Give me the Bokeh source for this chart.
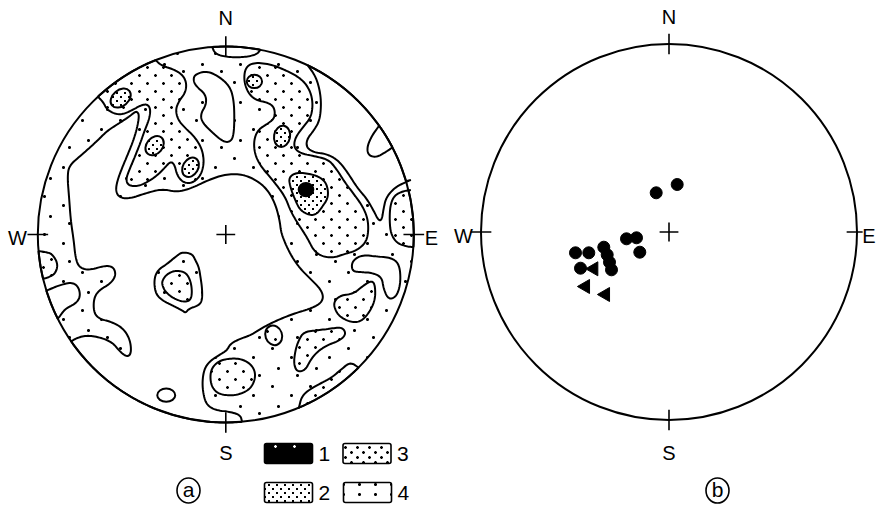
import math
import zlib
import struct
import base64
import numpy as np
from bokeh.plotting import figure
from bokeh.layouts import row
from bokeh.models import Range1d, ColumnDataSource, ImageURLTexture
from bokeh.core.properties import value
from bokeh.embed import file_html
from bokeh.resources import INLINE

FONT = "Liberation Sans"

# ------------------------------------------------------------------
# Net (a): contour outlines.
# Drawing units, y grows downward; net centre / radius below.
# A trailing None means: close the outline along the primitive circle.
# ------------------------------------------------------------------
DIGI_CX, DIGI_CY, DIGI_R = 616.0, 642.0, 565.0

# areas below the lowest contour (white)
white_center = [(149, 965), (164, 955), (194, 945), (234, 950), (274, 965), (299, 995), (319, 1010),
                (332, 1000), (329, 960), (309, 925), (274, 905), (234, 895), (219, 875), (219, 835),
                (234, 810), (269, 790), (286, 765), (279, 740), (254, 735), (204, 750), (174, 740),
                (164, 710), (159, 660), (150, 600), (145, 530), (140, 470), (145, 435), (180, 405),
                (225, 365), (260, 330), (295, 308), (325, 288), (340, 276), (348, 272), (356, 282),
                (350, 320), (338, 360), (322, 400), (305, 440), (290, 480), (285, 510), (295, 530),
                (325, 535), (375, 518), (425, 505), (470, 515), (515, 502), (560, 480), (610, 462),
                (660, 460), (702, 475), (740, 505), (765, 550), (778, 600), (782, 635), (795, 670),
                (815, 710), (840, 745), (870, 775), (900, 805), (910, 830), (900, 850), (870, 865),
                (820, 880), (770, 900), (730, 920), (690, 945), (660, 955), (630, 970), (620, 990),
                (595, 1005), (565, 1025), (550, 1050), (545, 1090), (550, 1130), (560, 1155),
                (585, 1170), (630, 1175), (660, 1185), (665, 1205), None]
white_top = [(525, 160), (560, 150), (600, 170), (630, 200), (640, 240), (642, 290), (640, 340),
             (632, 362), (610, 365), (575, 335), (545, 305), (540, 280), (558, 250), (555, 220),
             (525, 195), (518, 175)]
white_north = [(575, 78), (582, 95), (600, 105), (640, 110), (680, 108), (710, 100), (720, 87), None]
white_east = [(862, 133), (885, 165), (898, 205), (903, 250), (898, 300), (880, 330), (860, 355),
              (858, 380), (880, 395), (920, 400), (955, 420), (985, 460), (1010, 500), (1040, 535),
              (1060, 570), (1075, 600), (1085, 598), (1090, 565), (1098, 530), (1125, 500),
              (1158, 484), (1172, 478), None]
white_southwest = [(79, 810), (114, 795), (154, 785), (174, 800), (179, 830), (164, 850), (134, 865),
                   (119, 885), (111, 895), None]
white_finger = [(995, 722), (1025, 703), (1070, 708), (1115, 712), (1138, 732), (1142, 785),
                (1130, 828), (1105, 838), (1090, 805), (1085, 770), (1055, 757), (1020, 755), (995, 752)]

# small closed contours drawn as outlines only
bump_ne = [(1077, 315), (1055, 345), (1040, 380), (1045, 405), (1070, 410), (1100, 392), (1117, 380), None]
small_ovals_x, small_ovals_y, small_ovals_w, small_ovals_h = [437], [1125], [54], [40]

# level 4 island in the white centre
island_outer = [(400, 780), (410, 750), (440, 730), (470, 705), (485, 695), (515, 700), (525, 720),
                (535, 740), (540, 770), (545, 805), (545, 840), (535, 855), (505, 865), (495, 878),
                (485, 870), (455, 855), (425, 840), (405, 820)]

# level 3 areas
l3_tongue = [(232, 228), (248, 245), (258, 265), (278, 278), (305, 282), (335, 268), (360, 254),
             (380, 250), (390, 265), (386, 295), (372, 330), (358, 370), (342, 410), (326, 448),
             (316, 475), (322, 494), (348, 498), (378, 486), (408, 466), (432, 442), (450, 422),
             (462, 432), (470, 465), (488, 486), (515, 488), (540, 466), (550, 432), (548, 400),
             (538, 372), (518, 344), (494, 322), (472, 297), (465, 266), (476, 240), (495, 215),
             (498, 186), (486, 162), (460, 146), (422, 134), (405, 118), None]
l3_band = [(675, 140), (700, 125), (750, 130), (800, 150), (845, 175), (870, 210), (878, 250),
           (872, 290), (848, 320), (825, 350), (820, 380), (840, 398), (885, 407), (925, 417),
           (950, 447), (975, 487), (1002, 522), (1027, 557), (1042, 592), (1045, 630), (1038, 665),
           (1010, 690), (975, 700), (940, 712), (905, 708), (880, 690), (865, 660), (850, 635),
           (830, 605), (810, 570), (795, 530), (770, 495), (745, 465), (720, 435), (703, 400),
           (700, 360), (712, 328), (740, 310), (763, 293), (763, 262), (745, 246), (705, 238),
           (682, 215), (670, 178)]
l3_east = [(1172, 508), (1148, 512), (1122, 525), (1110, 555), (1108, 600), (1112, 640), (1130, 668),
           (1160, 678), (1180, 680), None]
l3_west = [(55, 692), (75, 695), (94, 700), (112, 730), (104, 760), (80, 772), (67, 775), None]
l3_island = [(425, 780), (440, 760), (465, 750), (495, 755), (510, 780), (515, 815), (510, 840),
             (490, 845), (460, 835), (435, 815), (425, 795)]
l3_south = [(570, 1050), (590, 1025), (620, 1015), (660, 1015), (690, 1030), (705, 1055), (702, 1085),
            (685, 1110), (650, 1125), (610, 1125), (585, 1115), (570, 1090)]
l3_patch1 = [(835, 960), (850, 935), (890, 930), (930, 925), (965, 920), (978, 940), (960, 960),
             (920, 975), (890, 995), (870, 1020), (855, 1050), (830, 1055), (820, 1030), (825, 990)]
l3_patch2 = [(940, 845), (960, 825), (1000, 820), (1030, 795), (1055, 780), (1065, 795), (1065, 840),
             (1045, 880), (1020, 905), (990, 905), (960, 890), (945, 870)]
l3_southeast = [(835, 1165), (845, 1125), (880, 1100), (930, 1075), (960, 1050), (990, 1025),
                (1015, 1042), None]
l3_ovals_x, l3_ovals_y, l3_ovals_w, l3_ovals_h, l3_ovals_a = [760], [945], [50], [60], [20]

# level 2 areas
l2_ovals_x = [300, 402, 510, 702, 785]
l2_ovals_y = [232, 375, 440, 182, 347]
l2_ovals_w = [68, 64, 62, 46, 64]
l2_ovals_h = [48, 48, 46, 40, 48]
l2_ovals_a = [40, 50, 60, 0, 80]
l2_max = [(805, 470), (830, 455), (870, 460), (900, 470), (920, 490), (925, 530), (905, 560),
          (890, 580), (870, 585), (840, 570), (825, 540), (810, 500)]

# level 1 (maximum)
l1_x, l1_y, l1_w, l1_h = [857], [507], [44], [40]

# ------------------------------------------------------------------
# Net (b): poles, offsets from centre (x east, y north), net radius 188
# ------------------------------------------------------------------
B_R = 188.0
dots_x = [-12.8, 8.2, -42.5, -32.5, -29.2, -65.2, -61.8, -59.5, -57.5, -93.5, -80.2, -88.5]
dots_y = [39.2, 47.5, -6.8, -5.8, -20.2, -15.2, -22.8, -30.2, -37.8, -20.8, -20.8, -36.2]
tris_x = [-75.2, -83.5, -63.5]
tris_y = [-36.8, -54.5, -62.5]

CARDINALS = ["N", "E", "S", "W"]
LEGEND_LABELS = ["1", "2", "3", "4"]
PANEL_LABELS = ["a", "b"]

# ------------------------------------------------------------------
# layout / style
# ------------------------------------------------------------------
PX = 188.0            # screen pixels per net radius
H = 512
WA, WB = 448, 428
CA = (225.3, 234.0)   # net (a) centre inside its figure (px)
CB = (220.5, 231.5)   # net (b) centre inside its figure (px)


def _png(w, h, alpha, rgb):
    raw = b""
    for y in range(h):
        raw += b"\x00" + b"".join(bytes([rgb[0], rgb[1], rgb[2], int(255 * alpha[y, x])]) for x in range(w))

    def chunk(t, d):
        return struct.pack(">I", len(d)) + t + d + struct.pack(">I", zlib.crc32(t + d) & 0xffffffff)

    png = (b"\x89PNG\r\n\x1a\n" + chunk(b"IHDR", struct.pack(">IIBBBBB", w, h, 8, 6, 0, 0, 0))
           + chunk(b"IDAT", zlib.compress(raw)) + chunk(b"IEND", b""))
    return "data:image/png;base64," + base64.b64encode(png).decode()


def dot_tile(w, h, dots, rgb=(0, 0, 0), corner=0.6):
    """Transparent tile with small round-ish dots (a fill texture)."""
    alpha = np.zeros((h, w))
    for (cx, cy) in dots:
        for dx in (-1, 0, 1):
            for dy in (-1, 0, 1):
                a = 1.0 if (dx == 0 or dy == 0) else corner
                x, y = (cx + dx) % w, (cy + dy) % h
                alpha[y, x] = max(alpha[y, x], a)
    return _png(w, h, alpha, rgb)


def pixel_tile(w, h, pts):
    alpha = np.zeros((h, w))
    for (x, y) in pts:
        alpha[y % h, x % w] = 1.0
    return _png(w, h, alpha, (0, 0, 0))


TEXTURES = {
    "lev4": ImageURLTexture(url=dot_tile(38, 38, [(6, 6), (25, 15), (12, 26), (31, 33)]), repetition="repeat"),
    "lev3": ImageURLTexture(url=dot_tile(16, 16, [(3, 3), (11, 11)], corner=0.4), repetition="repeat"),
    "lev2": ImageURLTexture(url=pixel_tile(8, 8, [(0, 0), (1, 0), (0, 1), (1, 1),
                                                  (4, 4), (5, 4), (4, 5), (5, 5)]), repetition="repeat"),
    "lev1": ImageURLTexture(url=dot_tile(19, 19, [(9, 9)], rgb=(255, 255, 255), corner=0.3), repetition="repeat"),
    "box4": ImageURLTexture(url=dot_tile(16, 10, [(7, 4)]), repetition="repeat"),
    "box3": ImageURLTexture(url=dot_tile(12, 10, [(3, 2), (9, 7)], corner=0.4), repetition="repeat"),
}


def to_unit(pts):
    a = np.asarray(pts, float)
    return np.column_stack([(a[:, 0] - DIGI_CX) / DIGI_R, (DIGI_CY - a[:, 1]) / DIGI_R])


def chaikin(P, closed, it=3):
    for _ in range(it):
        if closed:
            Q = np.roll(P, -1, axis=0)
            out = np.empty((2 * len(P), 2))
            out[0::2] = 0.75 * P + 0.25 * Q
            out[1::2] = 0.25 * P + 0.75 * Q
            P = out
        else:
            mid = np.empty((2 * (len(P) - 1), 2))
            mid[0::2] = 0.75 * P[:-1] + 0.25 * P[1:]
            mid[1::2] = 0.25 * P[:-1] + 0.75 * P[1:]
            P = np.vstack([P[:1], mid, P[-1:]])
    return P


def arc(p_from, p_to):
    a0 = math.atan2(p_from[1], p_from[0])
    a1 = math.atan2(p_to[1], p_to[0])
    d = (a1 - a0 + math.pi) % (2 * math.pi) - math.pi
    n = max(3, int(abs(d) / 0.01))
    t = a0 + d * np.linspace(0, 1, n)
    return np.column_stack([np.cos(t), np.sin(t)])


def outline(spec):
    if spec[-1] is None:
        P = chaikin(to_unit(spec[:-1]), closed=False)
        return np.vstack([P, arc(P[-1], P[0])])
    return chaikin(to_unit(spec), closed=True)


def make_fig(w, c):
    p = figure(width=w, height=H, x_range=Range1d(-c[0] / PX, (w - c[0]) / PX),
               y_range=Range1d(-(H - c[1]) / PX, c[1] / PX), output_backend="svg",
               toolbar_location=None, min_border=0, x_axis_type=None, y_axis_type=None)
    p.grid.visible = False
    p.outline_line_color = None
    p.background_fill_color = "white"
    p.border_fill_color = "white"
    return p


def areas(p, specs, fill, pat=None, line=True):
    xs, ys = [], []
    for s in specs:
        P = outline(s)
        xs.append(list(P[:, 0]))
        ys.append(list(P[:, 1]))
    data = dict(xs=xs, ys=ys)
    kw = dict(fill_color=fill, line_color="black" if line else None, line_width=2)
    if pat is not None:
        data["pat"] = [pat] * len(xs)
        kw.update(hatch_pattern="pat", hatch_extra=TEXTURES, hatch_color="black")
    p.patches("xs", "ys", source=ColumnDataSource(data), **kw)


def ovals(p, x, y, w, h, a, fill, pat=None):
    data = dict(x=[(v - DIGI_CX) / DIGI_R for v in x], y=[(DIGI_CY - v) / DIGI_R for v in y],
                w=[v / DIGI_R for v in w], h=[v / DIGI_R for v in h], a=[math.radians(v) for v in a])
    kw = dict(fill_color=fill, line_color="black", line_width=2)
    if pat is not None:
        data["pat"] = [pat] * len(x)
        kw.update(hatch_pattern="pat", hatch_extra=TEXTURES, hatch_color="black")
    p.ellipse("x", "y", width="w", height="h", angle="a", source=ColumnDataSource(data), **kw)


def net_frame(p, label_off, e_tick=1.055, e_align="center"):
    p.circle(x=[0], y=[0], radius=1, fill_color=None, line_color="black", line_width=2)
    t = 0.055
    p.segment(x0=[0, 1 - t, 0, -1 - t, -0.05, 0], y0=[1 - t, 0, -1 - t, 0, 0, -0.05],
              x1=[0, e_tick, 0, -1 + t, 0.05, 0], y1=[1 + t, 0, -1 + t, 0, 0, 0.05],
              line_color="black", line_width=1.6)
    common = dict(text_font=value(FONT), text_font_size="20px", text_baseline="middle",
                  text_color="black")
    p.text(x=[0, 0, -label_off[3]], y=[label_off[0], -label_off[2], -0.02],
           text=[CARDINALS[0], CARDINALS[2], CARDINALS[3]], text_align="center", **common)
    p.text(x=[label_off[1]], y=[-0.02], text=[CARDINALS[1]], text_align=e_align, **common)


def px_a(x, y):
    return (x - CA[0]) / PX, (CA[1] - y) / PX


# ------------------------------------------------------------------
# figure (a)
# ------------------------------------------------------------------
pa = make_fig(WA, CA)
t = np.linspace(0, 2 * np.pi, 400)
pa.patches("xs", "ys", source=ColumnDataSource(dict(xs=[list(np.cos(t))], ys=[list(np.sin(t))], pat=["lev4"])),
           fill_color="white", line_color=None, hatch_pattern="pat", hatch_extra=TEXTURES,
           hatch_color="black")

areas(pa, [white_center, white_top, white_north, white_east, white_southwest, white_finger], "white")
areas(pa, [bump_ne], "white")
ovals(pa, small_ovals_x, small_ovals_y, small_ovals_w, small_ovals_h, [0], "white")
areas(pa, [island_outer], "white", "lev4")
areas(pa, [l3_tongue, l3_band, l3_east, l3_west, l3_island, l3_south, l3_patch1, l3_patch2,
           l3_southeast], "white", "lev3")
ovals(pa, l3_ovals_x, l3_ovals_y, l3_ovals_w, l3_ovals_h, l3_ovals_a, "white", "lev3")
ovals(pa, l2_ovals_x, l2_ovals_y, l2_ovals_w, l2_ovals_h, l2_ovals_a, "white", "lev2")
areas(pa, [l2_max], "white", "lev2")
ovals(pa, l1_x, l1_y, l1_w, l1_h, [0], "black")

net_frame(pa, (1.154, 1.094, 1.16, 1.108))

# legend
box_px = {"1": (288, 453), "3": (366.5, 453), "2": (288, 492), "4": (367, 492)}
box_fill = {"1": "black", "2": "white", "3": "white", "4": "white"}
box_pat = {"1": "lev1", "2": "lev2", "3": "box3", "4": "box4"}
bx, by, bf, bp = [], [], [], []
for lab in LEGEND_LABELS:
    x, y = px_a(*box_px[lab])
    bx.append(x)
    by.append(y)
    bf.append(box_fill[lab])
    bp.append(box_pat[lab])
pa.rect("x", "y", width=48 / PX, height=20 / PX, source=ColumnDataSource(dict(x=bx, y=by, f=bf, pat=bp)),
        fill_color="f", line_color="black", line_width=1.6, border_radius=2,
        hatch_pattern="pat", hatch_extra=TEXTURES, hatch_color="black")
pa.text(x=[v + 30 / PX for v in bx], y=by, text=LEGEND_LABELS, text_font=value(FONT),
        text_font_size="21px", text_align="left", text_baseline="middle", text_color="black")

ax, ay = px_a(188, 490)
pa.ellipse(x=[ax], y=[ay], width=23 / PX, height=25 / PX, fill_color=None, line_color="black",
           line_width=1.6)
pa.text(x=[ax], y=[ay + 1 / PX], text=[PANEL_LABELS[0]], text_font=value(FONT), text_font_size="21px",
        text_align="center", text_baseline="middle", text_color="black")

# ------------------------------------------------------------------
# figure (b)
# ------------------------------------------------------------------
pb = make_fig(WB, CB)
net_frame(pb, (1.141, (WB - 1 - CB[0]) / PX, 1.173, 1.093), e_tick=1.03, e_align="right")
pb.scatter(x=[v / B_R for v in dots_x], y=[v / B_R for v in dots_y], marker="circle", size=12,
           fill_color="black", line_color="black")
pb.scatter(x=[v / B_R for v in tris_x], y=[v / B_R for v in tris_y], marker="triangle", size=14,
           angle=math.pi / 2, fill_color="black", line_color="black")

bxx = (717 - WA - CB[0]) / PX
byy = (CB[1] - 490) / PX
pb.ellipse(x=[bxx], y=[byy], width=23 / PX, height=25 / PX, fill_color=None, line_color="black",
           line_width=1.6)
pb.text(x=[bxx], y=[byy + 1 / PX], text=[PANEL_LABELS[1]], text_font=value(FONT), text_font_size="21px",
        text_align="center", text_baseline="middle", text_color="black")

layout = row(pa, pb, spacing=0)
open("out.html", "w").write(file_html(layout, INLINE))
